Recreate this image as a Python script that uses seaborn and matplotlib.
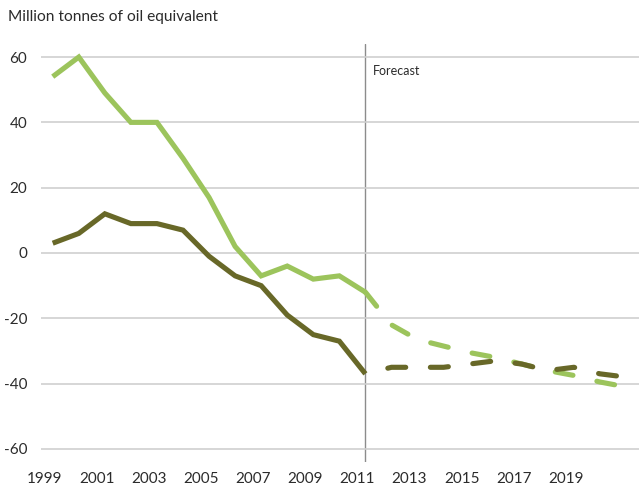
import numpy as np
import pandas as pd
import matplotlib
matplotlib.use("Agg")
import matplotlib.pyplot as plt
import matplotlib.transforms as mtransforms
import seaborn as sns

# ---- data ----
years_hist = [1999, 2000, 2001, 2002, 2003, 2004, 2005, 2006, 2007, 2008, 2009, 2010, 2011]
light_hist = [54, 60, 49, 40, 40, 29, 17, 2, -7, -4, -8, -7, -12]
dark_hist = [3, 6, 12, 9, 9, 7, -1, -7, -10, -19, -25, -27, -37]

years_fc = [2011, 2012, 2013, 2014, 2015, 2016, 2017, 2018, 2019, 2020, 2021]
light_fc = [-12, -22, -26.5, -28.5, -30.5, -32, -34, -36, -37.5, -39.5, -41]
dark_fc = [-37, -35, -35, -35, -34, -33, -34, -36, -35, -37, -38]

xtick_years = [1999, 2001, 2003, 2005, 2007, 2009, 2011, 2013, 2015, 2017, 2019]
ytick_vals = [60, 40, 20, 0, -20, -40, -60]
title = "Million tonnes of oil equivalent"
forecast_label = "Forecast"

LIGHT = "#9cc45c"
DARK = "#686828"

sns.set_theme(style="white")
plt.rcParams['font.family'] = ['Lato', 'DejaVu Sans']

fig = plt.figure(figsize=(6.4, 4.86), dpi=100)
ax = fig.add_axes([41/640, 1-462/486, (639-41)/640, (462-44)/486])

df_hist = pd.DataFrame({"year": years_hist, "light": light_hist, "dark": dark_hist})
df_fc = pd.DataFrame({"year": years_fc, "light": light_fc, "dark": dark_fc})

lw = 3.7
for col, c in (("light", LIGHT), ("dark", DARK)):
    sns.lineplot(data=df_hist, x="year", y=col, ax=ax, color=c, linewidth=lw,
                 solid_capstyle="butt", solid_joinstyle="miter")
for col, c, off in (("light", LIGHT, 0.0), ("dark", DARK, 3.8)):
    sns.lineplot(data=df_fc, x="year", y=col, ax=ax, color=c, linewidth=lw)
    ln = ax.lines[-1]
    ln.set_linestyle((off, (3.5, 4.8)))
    ln.set_dash_capstyle("round")

ax.axvline(2011, color="#8c8c8c", linewidth=1.0, zorder=0)

ax.set_ylim(-64, 64)
ax.set_xlim(1998.55, 2021.5)
ax.set_yticks(ytick_vals)
ax.set_yticklabels([str(v) for v in ytick_vals])
ax.set_xticks(xtick_years)
ax.set_xticklabels([str(y) for y in xtick_years])
ax.yaxis.grid(True, color="#cfcfcf", linewidth=1.2)
ax.set_axisbelow(True)
for s in ax.spines.values():
    s.set_visible(False)
ax.tick_params(axis="both", length=0, labelsize=11, colors="#2b2b2b")
ax.tick_params(axis="y", pad=10)
ax.tick_params(axis="x", pad=7)
offset = mtransforms.ScaledTranslation(-8/100, 0, fig.dpi_scale_trans)
for lab in ax.get_xticklabels():
    lab.set_transform(lab.get_transform() + offset)
ax.set_xlabel("")
ax.set_ylabel("")
if ax.get_legend():
    ax.get_legend().remove()

ax.annotate(forecast_label, xy=(2011, 64), xycoords="data", xytext=(7, -27),
            textcoords="offset pixels", fontsize=9, color="#2b2b2b", va="center", ha="left")

fig.text(8/640, 1-17/486, title, fontsize=11.2, color="#2b2b2b", va="center", ha="left")

fig.savefig("out.png", dpi=100)
